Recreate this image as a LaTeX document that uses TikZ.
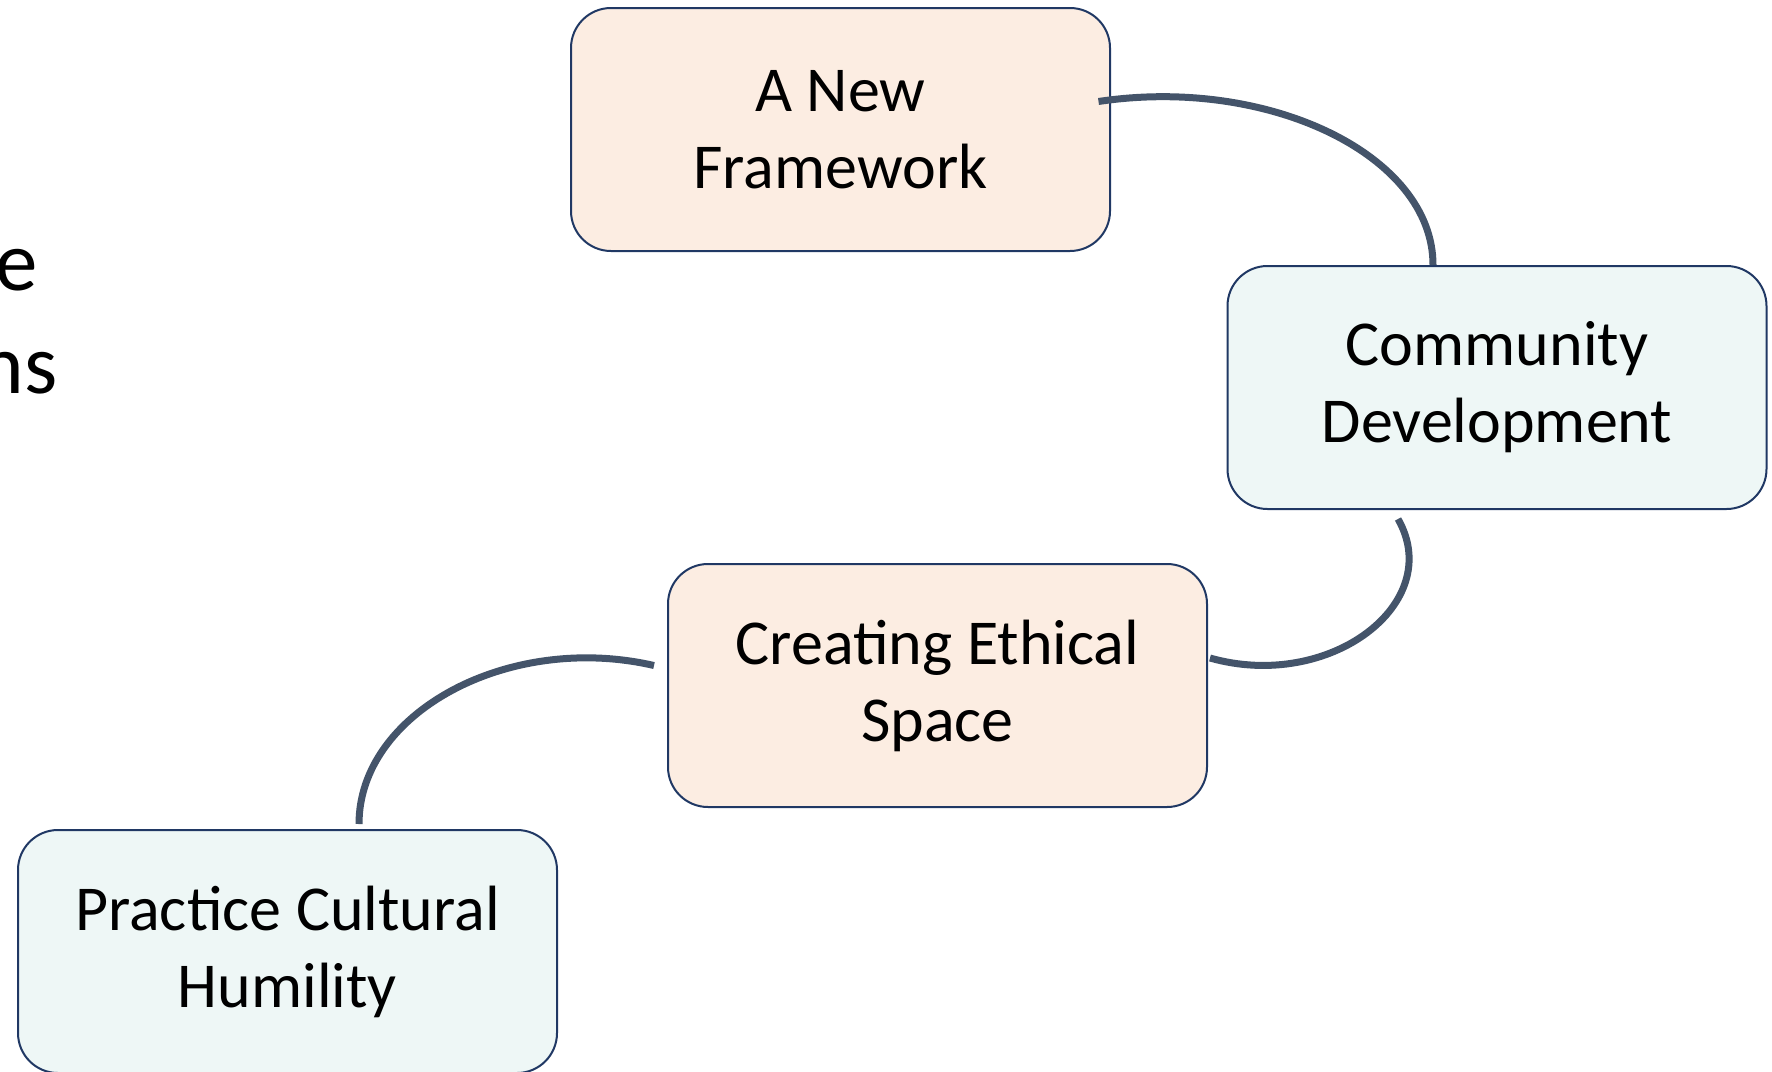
\documentclass[tikz,border=0pt]{standalone}
\usepackage{fontspec}
\setmainfont{Carlito}
\usetikzlibrary{calc}
\definecolor{peach}{HTML}{FCEDE2}
\definecolor{aqua}{HTML}{EEF7F6}
\definecolor{navy}{HTML}{203864}
\definecolor{slate}{HTML}{44546A}
\tikzset{
  stage/.style={draw=navy, line width=2pt, rounded corners=40pt, minimum width=539pt, minimum height=243pt, inner sep=0pt, align=center, font=\fontsize{64}{77}\selectfont},
  warm/.style={stage, fill=peach},
  cool/.style={stage, fill=aqua},
  conn/.style={draw=slate, line width=7pt},
  edgetext/.style={font=\fontsize{85}{100}\selectfont, anchor=base east, inner sep=0pt}
}
\begin{document}
\begin{tikzpicture}[x=1pt, y=-1pt]
\useasboundingbox (0,0) rectangle (1772,1071);
\node[edgetext] (t1) at (38,290) {e};
\node[edgetext] (t2) at (58,393) {ns};
\node[warm] (n1) at (840.5,129.5) {A New\\Framework};
\node[cool] (n2) at (1497,387.5) {Community\\Development};
\node[warm] (n3) at (937.5,685.5) {Creating Ethical\\Space};
\node[cool] (n4) at (287.5,951.5) {Practice Cultural\\Humility};
\draw[conn] ($(n1.east)+(-12.5,-28)$) .. controls (1268,76) and (1433,155) .. ($(n2.north)+(-64,0)$);
\draw[conn] ($(n2.south)+(-99,9)$) .. controls (1446,603) and (1330,692) .. ($(n3.east)+(2,-27.5)$);
\draw[conn] ($(n3.west)+(-13,-20)$) .. controls (508.5,632) and (359,712.6) .. ($(n4.north)+(71.5,-5)$);
\end{tikzpicture}
\end{document}
